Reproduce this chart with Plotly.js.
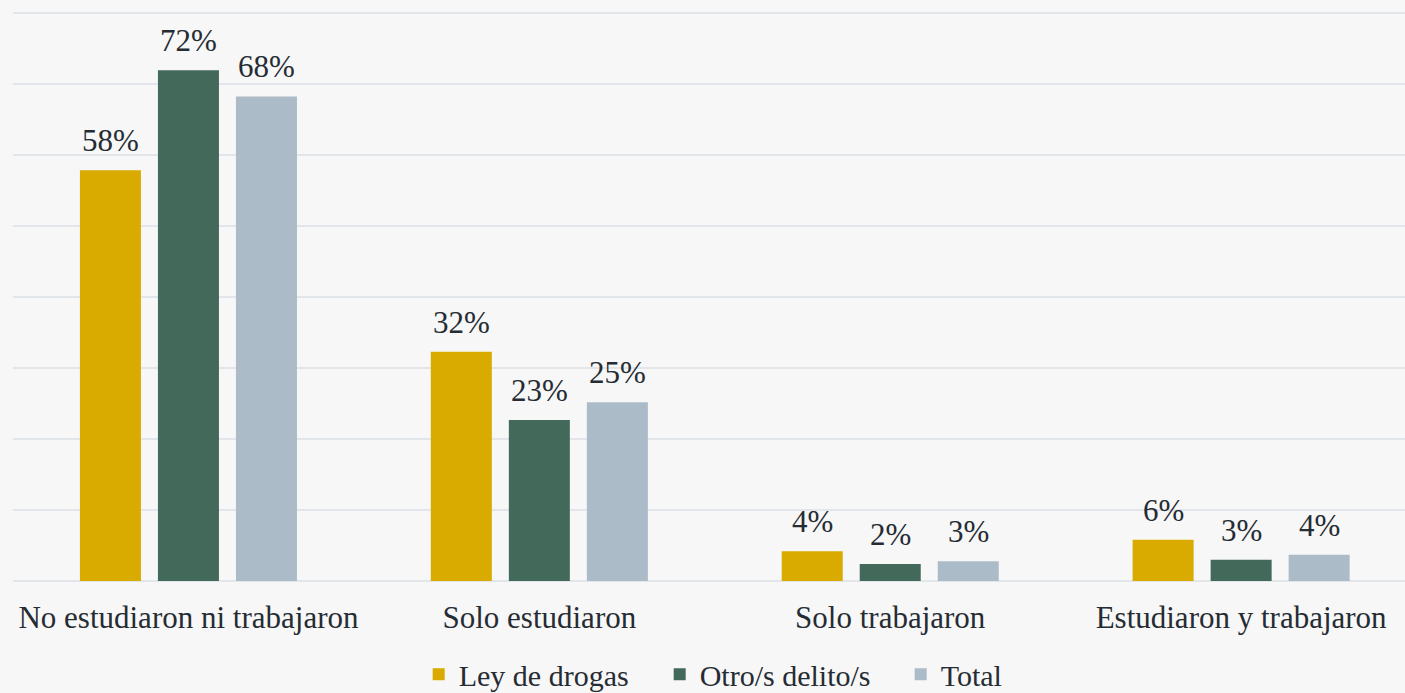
<!DOCTYPE html>
<html><head><meta charset="utf-8">
<script src="https://cdn.plot.ly/plotly-3.0.1.min.js"></script>
<style>html,body{margin:0;padding:0;background:#f7f7f7;}#chart{width:1405px;height:693px;}</style>
</head><body><div id="chart"></div>
<script>
const categories = ["No estudiaron ni trabajaron", "Solo estudiaron", "Solo trabajaron", "Estudiaron y trabajaron"];
const leyDrogas = [57.9, 32.3, 4.2, 5.8];
const otrosDelitos = [72.0, 22.7, 2.4, 3.0];
const total = [68.3, 25.2, 2.8, 3.7];
const leyDrogasLabels = ["58%", "32%", "4%", "6%"];
const otrosDelitosLabels = ["72%", "23%", "2%", "3%"];
const totalLabels = ["68%", "25%", "3%", "4%"];
const seriesNames = ["Ley de drogas", "Otro/s delito/s", "Total"];
const colors = ["#d9aa00", "#43695b", "#abbbc8"];

const fontFam = "'Liberation Serif', 'DejaVu Serif', serif";
const txtColor = "#262c33";
const vals = [leyDrogas, otrosDelitos, total];
const labs = [leyDrogasLabels, otrosDelitosLabels, totalLabels];
const offsets = [-78, 0, 78];

const data = vals.map((v, i) => ({
  type: "bar",
  name: seriesNames[i],
  x: categories,
  y: v,
  marker: {color: colors[i]},
  hoverinfo: "skip"
}));

const annotations = [];
vals.forEach((v, i) => {
  v.forEach((val, j) => {
    annotations.push({
      x: categories[j], y: val, xref: "x", yref: "y",
      text: labs[i][j], showarrow: false,
      xanchor: "center", yanchor: "bottom",
      xshift: offsets[i], yshift: 10,
      font: {family: fontFam, size: 31, color: txtColor}
    });
  });
});

const layout = {
  width: 1405, height: 693,
  paper_bgcolor: "#f7f7f7", plot_bgcolor: "#f7f7f7",
  margin: {l: 13, r: 0, t: 12, b: 112},
  barmode: "group",
  bargap: 0.333,
  bargroupgap: 0.218,
  font: {family: fontFam, color: txtColor, size: 31},
  annotations: annotations,
  xaxis: {
    type: "category",
    range: [-0.5, 3.467],
    showgrid: false, zeroline: false, showline: false,
    ticks: "", ticklabelstandoff: 15,
    tickfont: {family: fontFam, size: 31, color: txtColor}
  },
  yaxis: {
    range: [0, 80.2], tickvals: [0, 10, 20, 30, 40, 50, 60, 70, 80],
    showticklabels: false,
    showgrid: true, gridcolor: "#e2e5e9", gridwidth: 2,
    zeroline: true, zerolinecolor: "#e2e5e9", zerolinewidth: 2,
    showline: false, fixedrange: true
  },
  showlegend: true,
  legend: {
    orientation: "h",
    xref: "container", x: 0.298, xanchor: "left",
    yref: "container", y: 0.027, yanchor: "middle",
    font: {family: fontFam, size: 30, color: txtColor},
    itemwidth: 30, entrywidth: 196, entrywidthmode: "pixels",
    traceorder: "normal", bgcolor: "rgba(0,0,0,0)"
  }
};
Plotly.newPlot("chart", data, layout, {displayModeBar: false, staticPlot: true});
</script>
</body></html>
